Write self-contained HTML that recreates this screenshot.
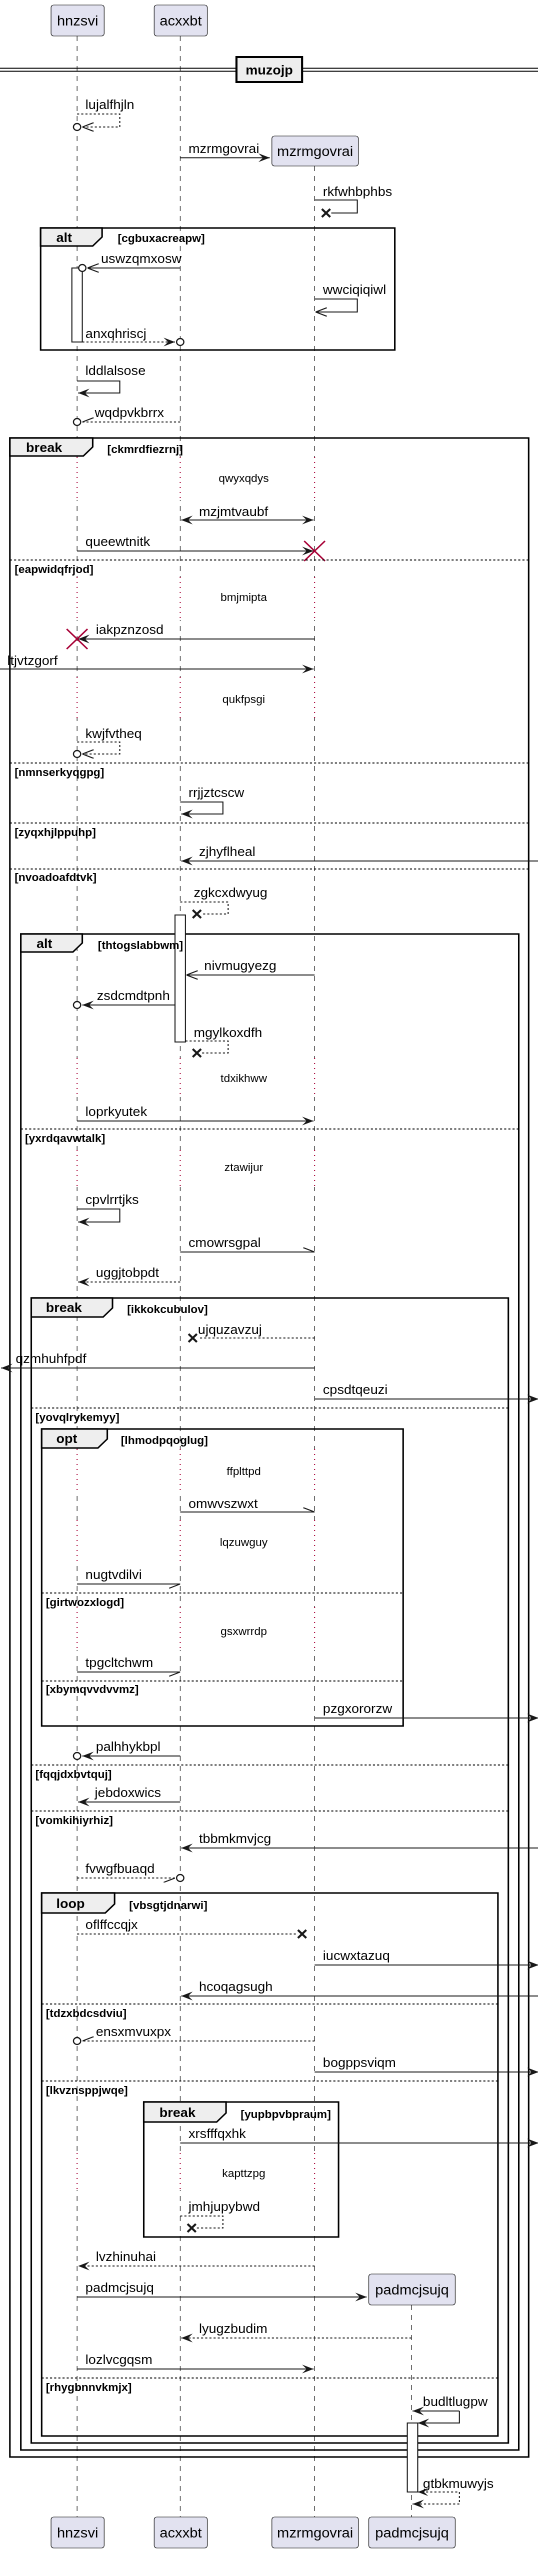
<!DOCTYPE html>
<html><head><meta charset="utf-8">
<style>
html,body{margin:0;padding:0;background:#fff;}
svg{display:block;}
text{font-family:"Liberation Sans",sans-serif;fill:#000;}
.m{font-size:13px;}
.d{font-size:11px;}
.b{font-size:11px;font-weight:bold;}
.t{font-size:13px;font-weight:bold;}
.p{font-size:14px;}
.ll{stroke:#181818;stroke-width:0.6;stroke-dasharray:5,5;fill:none;}
.s{stroke:#181818;stroke-width:1;fill:none;}
.ds{stroke:#181818;stroke-width:1;fill:none;stroke-dasharray:2,2;}
.fr{stroke:#000;stroke-width:1.5;fill:none;}
.tab{stroke:#000;stroke-width:1.5;fill:#eee;}
.sep{stroke:#000;stroke-width:1;stroke-dasharray:2,2;}
.pb{fill:#e2e2f0;stroke:#181818;stroke-width:0.6;}
.dl{stroke:#a80036;stroke-width:1;stroke-dasharray:1,4;}
.rx{stroke:#a80036;stroke-width:1.5;}
.kx{stroke:#181818;stroke-width:2;}
</style></head><body>
<svg width="538" height="2553" viewBox="0 0 538 2553" xmlns="http://www.w3.org/2000/svg">
<defs>
<marker id="f" viewBox="0 0 10 8" refX="10" refY="4" markerWidth="11" markerHeight="9" orient="auto-start-reverse" markerUnits="userSpaceOnUse"><path d="M0,0 L10,4 L0,8 L4,4 Z" fill="#181818"/></marker>
<marker id="o" viewBox="0 0 10 8" refX="10" refY="4" markerWidth="11" markerHeight="9" orient="auto" markerUnits="userSpaceOnUse"><path d="M0,0 L10,4 L0,8" fill="none" stroke="#181818" stroke-width="1"/></marker>
<marker id="hu" viewBox="0 0 10 8" refX="10" refY="4" markerWidth="11" markerHeight="9" orient="auto" markerUnits="userSpaceOnUse"><path d="M0,0 L10,4" fill="none" stroke="#181818" stroke-width="1"/></marker>
<marker id="hl" viewBox="0 0 10 8" refX="10" refY="4" markerWidth="11" markerHeight="9" orient="auto" markerUnits="userSpaceOnUse"><path d="M0,8 L10,4" fill="none" stroke="#181818" stroke-width="1"/></marker>
</defs>
<g transform="scale(1.0417,1)">
<!-- lifelines -->
<line class="ll" x1="74" y1="36" x2="74" y2="2517"/>
<line class="ll" x1="173" y1="36" x2="173" y2="2517"/>
<line class="ll" x1="302" y1="166" x2="302" y2="2517"/>
<line class="ll" x1="395" y1="2305" x2="395" y2="2517"/>

<!-- delays -->
<g>
<rect x="70" y="457" width="240" height="43" fill="#fff"/>
<line class="dl" x1="74" y1="457" x2="74" y2="500"/><line class="dl" x1="173" y1="457" x2="173" y2="500"/><line class="dl" x1="302" y1="457" x2="302" y2="500"/>
<rect x="70" y="577" width="240" height="43" fill="#fff"/>
<line class="dl" x1="74" y1="577" x2="74" y2="620"/><line class="dl" x1="173" y1="577" x2="173" y2="620"/><line class="dl" x1="302" y1="577" x2="302" y2="620"/>
<rect x="70" y="677" width="240" height="41" fill="#fff"/>
<line class="dl" x1="74" y1="677" x2="74" y2="718"/><line class="dl" x1="173" y1="677" x2="173" y2="718"/><line class="dl" x1="302" y1="677" x2="302" y2="718"/>
<rect x="70" y="1058" width="240" height="39" fill="#fff"/>
<line class="dl" x1="74" y1="1058" x2="74" y2="1097"/><line class="dl" x1="173" y1="1058" x2="173" y2="1097"/><line class="dl" x1="302" y1="1058" x2="302" y2="1097"/>
<rect x="70" y="1150" width="240" height="37" fill="#fff"/>
<line class="dl" x1="74" y1="1150" x2="74" y2="1187"/><line class="dl" x1="173" y1="1150" x2="173" y2="1187"/><line class="dl" x1="302" y1="1150" x2="302" y2="1187"/>
<rect x="70" y="1449" width="240" height="44" fill="#fff"/>
<line class="dl" x1="74" y1="1449" x2="74" y2="1493"/><line class="dl" x1="173" y1="1449" x2="173" y2="1493"/><line class="dl" x1="302" y1="1449" x2="302" y2="1493"/>
<rect x="70" y="1520" width="240" height="44" fill="#fff"/>
<line class="dl" x1="74" y1="1520" x2="74" y2="1564"/><line class="dl" x1="173" y1="1520" x2="173" y2="1564"/><line class="dl" x1="302" y1="1520" x2="302" y2="1564"/>
<rect x="70" y="1607" width="240" height="43" fill="#fff"/>
<line class="dl" x1="74" y1="1607" x2="74" y2="1650"/><line class="dl" x1="173" y1="1607" x2="173" y2="1650"/><line class="dl" x1="302" y1="1607" x2="302" y2="1650"/>
<rect x="70" y="2153" width="240" height="37" fill="#fff"/>
<line class="dl" x1="74" y1="2153" x2="74" y2="2190"/><line class="dl" x1="173" y1="2153" x2="173" y2="2190"/><line class="dl" x1="302" y1="2153" x2="302" y2="2190"/>
</g>
<text class="d" x="234" y="482" text-anchor="middle">qwyxqdys</text>
<text class="d" x="234" y="601" text-anchor="middle">bmjmipta</text>
<text class="d" x="234" y="703" text-anchor="middle">qukfpsgi</text>
<text class="d" x="234" y="1082" text-anchor="middle">tdxikhww</text>
<text class="d" x="234" y="1171" text-anchor="middle">ztawijur</text>
<text class="d" x="234" y="1475" text-anchor="middle">ffplttpd</text>
<text class="d" x="234" y="1546" text-anchor="middle">lqzuwguy</text>
<text class="d" x="234" y="1635" text-anchor="middle">gsxwrrdp</text>
<text class="d" x="234" y="2177" text-anchor="middle">kapttzpg</text>

<!-- participants top -->
<rect class="pb" x="49" y="5" width="51" height="31" rx="2.5"/><text class="p" x="74.5" y="25.5" text-anchor="middle">hnzsvi</text>
<rect class="pb" x="148" y="5" width="51" height="31" rx="2.5"/><text class="p" x="173.5" y="25.5" text-anchor="middle">acxxbt</text>

<!-- divider -->
<line x1="0" y1="68.3" x2="538" y2="68.3" stroke="#000" stroke-width="1"/>
<line x1="0" y1="71.3" x2="538" y2="71.3" stroke="#000" stroke-width="1"/>
<rect x="227" y="57" width="63" height="25" fill="#eee" stroke="#000" stroke-width="2"/>
<text class="t" x="258.5" y="74.5" text-anchor="middle">muzojp</text>

<!-- lujalfhjln -->
<text class="m" x="82" y="109">lujalfhjln</text>
<path class="ds" d="M74,114 H115 V127 H79" marker-end="url(#o)"/>
<circle cx="74" cy="127" r="3.5" fill="#fff" stroke="#181818" stroke-width="1.2"/>

<!-- create mzrmgovrai -->
<text class="m" x="181" y="153">mzrmgovrai</text>
<line class="s" x1="173" y1="157.7" x2="259" y2="157.7" marker-end="url(#f)"/>
<rect class="pb" x="261" y="136" width="83" height="30" rx="2.5"/><text class="p" x="302.5" y="156" text-anchor="middle">mzrmgovrai</text>

<!-- rkfwhbphbs -->
<text class="m" x="310" y="196">rkfwhbphbs</text>
<path class="s" d="M302,200 H343 V213 H318"/>
<path class="kx" d="M309,209 L317,217 M317,209 L309,217"/>

<!-- alt cgbuxacreapw -->
<rect class="fr" x="39" y="228" width="340" height="122"/>
<path class="tab" d="M39,228 H98 V237 L89,246 H39 Z"/>
<text class="t" x="54" y="242">alt</text>
<text class="b" x="113" y="242">[cgbuxacreapw]</text>
<rect x="69" y="268" width="10" height="74" fill="#fff" stroke="#181818" stroke-width="1"/>
<text class="m" x="97" y="263">uswzqmxosw</text>
<line class="s" x1="173" y1="268" x2="84" y2="268" marker-end="url(#o)"/>
<circle cx="79" cy="268" r="3.5" fill="#fff" stroke="#181818" stroke-width="1.2"/>
<text class="m" x="310" y="294">wwciqiqiwl</text>
<path class="s" d="M302,299 H343 V312 H303" marker-end="url(#o)"/>
<text class="m" x="82" y="338">anxqhriscj</text>
<line class="ds" x1="79" y1="342" x2="168" y2="342" marker-end="url(#f)"/>
<circle cx="173" cy="342" r="3.5" fill="#fff" stroke="#181818" stroke-width="1.2"/>

<!-- lddlalsose -->
<text class="m" x="82" y="375">lddlalsose</text>
<path class="s" d="M74,381 H115 V393 H75" marker-end="url(#f)"/>
<!-- wqdpvkbrrx -->
<text class="m" x="91" y="417">wqdpvkbrrx</text>
<line class="ds" x1="173" y1="422" x2="79" y2="422" marker-end="url(#hl)"/>
<circle cx="74" cy="422" r="3.5" fill="#fff" stroke="#181818" stroke-width="1.2"/>

<!-- outer break -->
<rect class="fr" x="9.5" y="438" width="498" height="2019"/>
<path class="tab" d="M9.5,438 H89 V447 L80,456 H9.5 Z"/>
<text class="t" x="25" y="452">break</text>
<text class="b" x="103" y="453">[ckmrdfiezrnj]</text>

<text class="m" x="191" y="516">mzjmtvaubf</text>
<line class="s" x1="174" y1="520" x2="301" y2="520" marker-start="url(#f)" marker-end="url(#f)"/>
<text class="m" x="82" y="546">queewtnitk</text>
<line class="s" x1="74" y1="551" x2="301" y2="551" marker-end="url(#f)"/>
<path class="rx" d="M292,541 L312,561 M312,541 L292,561"/>
<line class="sep" x1="9.5" y1="560" x2="507.5" y2="560"/>
<text class="b" x="14" y="573">[eapwidqfrjod]</text>

<text class="m" x="92" y="634">iakpznzosd</text>
<line class="s" x1="302" y1="639" x2="75" y2="639" marker-end="url(#f)"/>
<path class="rx" d="M64,629 L84,649 M84,629 L64,649"/>
<text class="m" x="7" y="665">ltjvtzgorf</text>
<line class="s" x1="0" y1="669" x2="301" y2="669" marker-end="url(#f)"/>
<text class="m" x="82" y="738">kwjfvtheq</text>
<path class="ds" d="M74,742 H115 V754 H79" marker-end="url(#o)"/>
<circle cx="74" cy="754" r="3.5" fill="#fff" stroke="#181818" stroke-width="1.2"/>
<line class="sep" x1="9.5" y1="763" x2="507.5" y2="763"/>
<text class="b" x="14" y="776">[nmnserkyqgpg]</text>
<text class="m" x="181" y="797">rrjjztcscw</text>
<path class="s" d="M173,802 H214 V814 H174" marker-end="url(#f)"/>
<line class="sep" x1="9.5" y1="823" x2="507.5" y2="823"/>
<text class="b" x="14" y="836">[zyqxhjlppuhp]</text>
<text class="m" x="191" y="856">zjhyflheal</text>
<line class="s" x1="517" y1="861" x2="174" y2="861" marker-end="url(#f)"/>
<line class="sep" x1="9.5" y1="869" x2="507.5" y2="869"/>
<text class="b" x="14" y="881">[nvoadoafdtvk]</text>

<text class="m" x="186" y="897">zgkcxdwyug</text>
<path class="ds" d="M173,902 H219 V914 H194"/>
<path class="kx" d="M185,910 L193,918 M193,910 L185,918"/>

<!-- alt thtogslabbwm -->
<rect class="fr" x="20" y="934" width="478" height="1516"/>
<path class="tab" d="M20,934 H79 V943 L70,952 H20 Z"/>
<text class="t" x="35" y="948">alt</text>
<rect x="168" y="915" width="10" height="127" fill="#fff" stroke="#181818" stroke-width="1"/>
<text class="b" x="94" y="949">[thtogslabbwm]</text>
<text class="m" x="196" y="970">nivmugyezg</text>
<line class="s" x1="302" y1="975" x2="179" y2="975" marker-end="url(#o)"/>
<text class="m" x="93" y="1000">zsdcmdtpnh</text>
<line class="s" x1="168" y1="1005" x2="79" y2="1005" marker-end="url(#f)"/>
<circle cx="74" cy="1005" r="3.5" fill="#fff" stroke="#181818" stroke-width="1.2"/>
<text class="m" x="186" y="1037">mgylkoxdfh</text>
<path class="ds" d="M178,1041 H219 V1053 H194"/>
<path class="kx" d="M185,1049 L193,1057 M193,1049 L185,1057"/>
<text class="m" x="82" y="1116">loprkyutek</text>
<line class="s" x1="74" y1="1121" x2="301" y2="1121" marker-end="url(#f)"/>
<line class="sep" x1="20" y1="1129" x2="498" y2="1129"/>
<text class="b" x="24" y="1142">[yxrdqavwtalk]</text>
<text class="m" x="82" y="1204">cpvlrrtjks</text>
<path class="s" d="M74,1209 H115 V1222 H75" marker-end="url(#f)"/>
<text class="m" x="181" y="1247">cmowrsgpal</text>
<line class="s" x1="173" y1="1252" x2="302" y2="1252" marker-end="url(#hu)"/>
<text class="m" x="92" y="1277">uggjtobpdt</text>
<line class="ds" x1="173" y1="1282" x2="75" y2="1282" marker-end="url(#f)"/>

<!-- break ikkokcubulov -->
<rect class="fr" x="30" y="1298" width="458" height="1145"/>
<path class="tab" d="M30,1298 H108 V1308 L99,1317 H30 Z"/>
<text class="t" x="44" y="1312">break</text>
<text class="b" x="122" y="1313">[ikkokcubulov]</text>
<text class="m" x="190" y="1334">ujquzavzuj</text>
<line class="ds" x1="302" y1="1338" x2="190" y2="1338"/>
<path class="kx" d="M181,1334 L189,1342 M189,1334 L181,1342"/>
<text class="m" x="15" y="1363">qzmhuhfpdf</text>
<line class="s" x1="302" y1="1368" x2="1" y2="1368" marker-end="url(#f)"/>
<text class="m" x="310" y="1394">cpsdtqeuzi</text>
<line class="s" x1="302" y1="1399" x2="517" y2="1399" marker-end="url(#f)"/>
<line class="sep" x1="30" y1="1408" x2="488" y2="1408"/>
<text class="b" x="34" y="1421">[yovqlrykemyy]</text>

<!-- opt -->
<rect class="fr" x="40" y="1429" width="347" height="297"/>
<path class="tab" d="M40,1429 H103 V1439 L94,1448 H40 Z"/>
<text class="t" x="54" y="1443">opt</text>
<text class="b" x="116" y="1444">[lhmodpqoglug]</text>
<text class="m" x="181" y="1508">omwvszwxt</text>
<line class="s" x1="173" y1="1512" x2="302" y2="1512" marker-end="url(#hu)"/>
<text class="m" x="82" y="1579">nugtvdilvi</text>
<line class="s" x1="74" y1="1584" x2="173" y2="1584" marker-end="url(#hl)"/>
<line class="sep" x1="40" y1="1593" x2="387" y2="1593"/>
<text class="b" x="44" y="1606">[girtwozxlogd]</text>
<text class="m" x="82" y="1667">tpgcltchwm</text>
<line class="s" x1="74" y1="1672" x2="173" y2="1672" marker-end="url(#hl)"/>
<line class="sep" x1="40" y1="1681" x2="387" y2="1681"/>
<text class="b" x="44" y="1693">[xbymqvvdvvmz]</text>
<text class="m" x="310" y="1713">pzgxororzw</text>
<line class="s" x1="302" y1="1718" x2="517" y2="1718" marker-end="url(#f)"/>

<text class="m" x="92" y="1751">palhhykbpl</text>
<line class="s" x1="173" y1="1756" x2="79" y2="1756" marker-end="url(#f)"/>
<circle cx="74" cy="1756" r="3.5" fill="#fff" stroke="#181818" stroke-width="1.2"/>
<line class="sep" x1="30" y1="1765" x2="488" y2="1765"/>
<text class="b" x="34" y="1778">[fqqjdxbvtquj]</text>
<text class="m" x="91" y="1797">jebdoxwics</text>
<line class="s" x1="173" y1="1802" x2="75" y2="1802" marker-end="url(#f)"/>
<line class="sep" x1="30" y1="1811" x2="488" y2="1811"/>
<text class="b" x="34" y="1824">[vomkihiyrhiz]</text>
<text class="m" x="191" y="1843">tbbmkmvjcg</text>
<line class="s" x1="517" y1="1848" x2="174" y2="1848" marker-end="url(#f)"/>
<text class="m" x="82" y="1873">fvwgfbuaqd</text>
<line class="ds" x1="74" y1="1878" x2="168" y2="1878" marker-end="url(#hl)"/>
<circle cx="173" cy="1878" r="3.5" fill="#fff" stroke="#181818" stroke-width="1.2"/>

<!-- loop -->
<rect class="fr" x="40" y="1893" width="438" height="543"/>
<path class="tab" d="M40,1893 H110 V1904 L101,1913 H40 Z"/>
<text class="t" x="54" y="1908">loop</text>
<text class="b" x="124" y="1909">[vbsgtjdnarwi]</text>
<text class="m" x="82" y="1929">oflffccqjx</text>
<line class="ds" x1="74" y1="1934" x2="286" y2="1934"/>
<path class="kx" d="M286,1930 L294,1938 M294,1930 L286,1938"/>
<text class="m" x="310" y="1960">iucwxtazuq</text>
<line class="s" x1="302" y1="1965" x2="517" y2="1965" marker-end="url(#f)"/>
<text class="m" x="191" y="1991">hcoqagsugh</text>
<line class="s" x1="517" y1="1996" x2="174" y2="1996" marker-end="url(#f)"/>
<line class="sep" x1="40" y1="2004" x2="478" y2="2004"/>
<text class="b" x="44" y="2017">[tdzxbdcsdviu]</text>
<text class="m" x="92" y="2036">ensxmvuxpx</text>
<line class="ds" x1="302" y1="2041" x2="79" y2="2041" marker-end="url(#hl)"/>
<circle cx="74" cy="2041" r="3.5" fill="#fff" stroke="#181818" stroke-width="1.2"/>
<text class="m" x="310" y="2067">bogppsviqm</text>
<line class="s" x1="302" y1="2072" x2="517" y2="2072" marker-end="url(#f)"/>
<line class="sep" x1="40" y1="2081" x2="478" y2="2081"/>
<text class="b" x="44" y="2094">[lkvznsppjwqe]</text>

<!-- inner break -->
<rect class="fr" x="138" y="2102" width="187" height="135"/>
<path class="tab" d="M138,2102 H217 V2113 L208,2122 H138 Z"/>
<text class="t" x="153" y="2117">break</text>
<text class="b" x="231" y="2118">[yupbpvbpraum]</text>
<text class="m" x="181" y="2138">xrsfffqxhk</text>
<line class="s" x1="173" y1="2143" x2="517" y2="2143" marker-end="url(#f)"/>
<text class="m" x="181" y="2211">jmhjupybwd</text>
<path class="ds" d="M173,2216 H214 V2228 H188"/>
<path class="kx" d="M180,2224 L188,2232 M188,2224 L180,2232"/>

<text class="m" x="92" y="2261">lvzhinuhai</text>
<line class="ds" x1="302" y1="2266" x2="75" y2="2266" marker-end="url(#f)"/>
<text class="m" x="82" y="2292">padmcjsujq</text>
<line class="s" x1="74" y1="2297" x2="352" y2="2297" marker-end="url(#f)"/>
<rect class="pb" x="354" y="2274" width="83" height="31" rx="2.5"/><text class="p" x="395.5" y="2294.5" text-anchor="middle">padmcjsujq</text>
<text class="m" x="191" y="2333">lyugzbudim</text>
<line class="ds" x1="395" y1="2338" x2="174" y2="2338" marker-end="url(#f)"/>
<text class="m" x="82" y="2364">lozlvcgqsm</text>
<line class="s" x1="74" y1="2369" x2="301" y2="2369" marker-end="url(#f)"/>
<line class="sep" x1="40" y1="2378" x2="478" y2="2378"/>
<text class="b" x="44" y="2391">[rhygbnnvkmjx]</text>

<text class="m" x="406" y="2406">budltlugpw</text>
<line class="s" x1="441" y1="2411" x2="396" y2="2411" marker-end="url(#f)"/>
<path class="s" d="M441,2411 V2423 H401" marker-end="url(#f)"/>
<rect x="391" y="2423" width="10" height="69" fill="#fff" stroke="#181818" stroke-width="1"/>
<text class="m" x="406" y="2488">gtbkmuwyjs</text>
<path class="ds" d="M401,2492 H441 V2504 H396" marker-end="url(#f)"/>
<path d="M401,2492 l10,-4 l-4,4 l4,4 z" fill="#181818"/>

<!-- participants bottom -->
<rect class="pb" x="49" y="2517" width="51" height="31" rx="2.5"/><text class="p" x="74.5" y="2537.5" text-anchor="middle">hnzsvi</text>
<rect class="pb" x="148" y="2517" width="51" height="31" rx="2.5"/><text class="p" x="173.5" y="2537.5" text-anchor="middle">acxxbt</text>
<rect class="pb" x="261" y="2517" width="83" height="31" rx="2.5"/><text class="p" x="302.5" y="2537.5" text-anchor="middle">mzrmgovrai</text>
<rect class="pb" x="354" y="2517" width="83" height="31" rx="2.5"/><text class="p" x="395.5" y="2537.5" text-anchor="middle">padmcjsujq</text>
</g>
</svg>
</body></html>
